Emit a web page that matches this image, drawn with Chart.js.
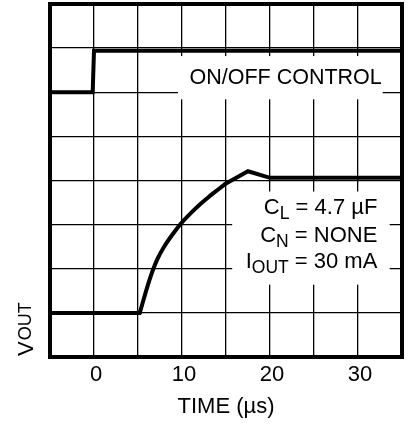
<!DOCTYPE html>
<html>
<head>
<meta charset="utf-8">
<script src="https://cdn.jsdelivr.net/npm/chart.js@4.4.1/dist/chart.umd.min.js"></script>
<style>
  html, body { margin: 0; padding: 0; background: #fff; }
  #wrap { width: 410px; height: 425px; position: relative; }
</style>
</head>
<body>
<div id="wrap"><canvas id="chart"></canvas></div>
<script>
// ---- values (x = time in µs, y = grid divisions) ----
const ctrlTime  = [-5, -0.15, 0.0, 35];
const ctrlLevel = [6.0, 6.0, 6.94, 6.94];

const voutTime  = [-5, 5.2, 6.0, 6.6, 7.2, 8.0, 9.0, 10.0, 11.0, 12.0, 13.0, 14.0, 14.9, 17.5, 20.0, 35];
const voutLevel = [1.0, 1.0, 1.55, 1.92, 2.22, 2.51, 2.80, 3.05, 3.26, 3.45, 3.62, 3.78, 3.92, 4.21, 4.06, 4.06];

const xTickLabels = [0, 10, 20, 30];

// text pieces: [main, subscript, rest]
const noteLines = [
  ["C", "L", " = 4.7 µF"],
  ["C", "N", " = NONE"],
  ["I", "OUT", " = 30 mA"]
];

const FONT = "'Liberation Sans', Arial, sans-serif";

function toPoints(xs, ys, from, to) {
  const pts = [];
  for (let i = from; i < to; i++) pts.push({ x: xs[i], y: ys[i] });
  return pts;
}

// the rise (index 1..12) is smooth, the rest is straight
const RISE_START = 1, RISE_END = 12;

function traceSet(data, smooth) {
  return {
    data: data,
    borderColor: "#000",
    borderWidth: 4,
    pointRadius: 0,
    tension: smooth ? 0.4 : 0,
    cubicInterpolationMode: smooth ? "monotone" : "default",
    borderCapStyle: "round",
    borderJoinStyle: "miter"
  };
}

// boxes, notes, frame and the V_OUT label
const scopeDeco = {
  id: "scopeDeco",
  beforeDatasetsDraw(chart) {
    const ctx = chart.ctx;
    const px = v => chart.scales.x.getPixelForValue(v);
    const py = v => chart.scales.y.getPixelForValue(v);
    ctx.save();
    ctx.fillStyle = "#fff";
    // ON/OFF CONTROL box
    ctx.fillRect(px(9.55), py(6.82), px(32.8) - px(9.55), py(5.84) - py(6.82));
    // conditions box
    ctx.fillRect(px(15.7), py(3.75), px(33.6) - px(15.7), py(1.64) - py(3.75));

    ctx.fillStyle = "#000";
    ctx.textBaseline = "alphabetic";
    ctx.textAlign = "right";
    ctx.font = "21.5px " + FONT;
    ctx.fillText("ON/OFF CONTROL", px(32.7), py(6.18));

    // right-aligned lines with subscripts
    const baseV = [3.23, 2.61, 2.02];
    ctx.textAlign = "left";
    noteLines.forEach((ln, i) => {
      ctx.font = "22px " + FONT;
      const w0 = ctx.measureText(ln[0]).width;
      const w2 = ctx.measureText(ln[2]).width;
      ctx.font = "17.5px " + FONT;
      const w1 = ctx.measureText(ln[1]).width;
      const right = px(32.2);
      const y = py(baseV[i]);
      let x = right - (w0 + w1 + w2);
      ctx.font = "22px " + FONT;
      ctx.fillText(ln[0], x, y);
      x += w0;
      ctx.font = "17.5px " + FONT;
      ctx.fillText(ln[1], x, y + 5);
      x += w1;
      ctx.font = "22px " + FONT;
      ctx.fillText(ln[2], x, y);
    });
    ctx.restore();
  },
  afterDraw(chart) {
    const ctx = chart.ctx;
    const a = chart.chartArea;
    ctx.save();
    ctx.strokeStyle = "#000";
    ctx.lineWidth = 4;
    ctx.strokeRect(a.left, a.top, a.right - a.left, a.bottom - a.top);

    // V_OUT, rotated
    ctx.translate(33, a.bottom - 1);
    ctx.rotate(-Math.PI / 2);
    ctx.fillStyle = "#000";
    ctx.textAlign = "left";
    ctx.textBaseline = "alphabetic";
    ctx.font = "22px " + FONT;
    ctx.fillText("V", 0, 0);
    const wv = ctx.measureText("V").width;
    ctx.font = "18px " + FONT;
    ctx.fillText("OUT", wv + 1, -2);
    ctx.restore();
  }
};

new Chart(document.getElementById("chart"), {
  type: "line",
  data: {
    datasets: [
      traceSet(toPoints(ctrlTime, ctrlLevel, 0, ctrlTime.length), false),
      traceSet(toPoints(voutTime, voutLevel, 0, RISE_START + 1), false),
      traceSet(toPoints(voutTime, voutLevel, RISE_START, RISE_END + 1), true),
      traceSet(toPoints(voutTime, voutLevel, RISE_END, voutTime.length), false)
    ]
  },
  options: {
    responsive: true,
    maintainAspectRatio: false,
    animation: false,
    layout: { padding: { left: 0, right: 8, top: 4, bottom: 0 } },
    plugins: {
      legend: { display: false },
      tooltip: { enabled: false }
    },
    scales: {
      x: {
        type: "linear",
        min: -5,
        max: 35,
        afterFit(s) { s.height = 68; },
        ticks: {
          stepSize: 5,
          autoSkip: false,
          maxRotation: 0,
          padding: 5,
          labelOffset: 2,
          color: "#000",
          font: { family: FONT, size: 22 },
          callback: v => xTickLabels.includes(v) ? String(v) : ""
        },
        grid: { color: "#000", lineWidth: 1.3, drawTicks: false },
        border: { display: false },
        title: {
          display: true,
          text: "TIME (µs)",
          color: "#000",
          font: { family: FONT, size: 22 },
          padding: { top: 0, bottom: 5 }
        }
      },
      y: {
        type: "linear",
        min: 0,
        max: 8,
        afterFit(s) { s.width = 50; },
        ticks: { stepSize: 1, display: false },
        grid: { color: "#000", lineWidth: 1.3, drawTicks: false },
        border: { display: false }
      }
    }
  },
  plugins: [scopeDeco]
});
</script>
</body>
</html>
